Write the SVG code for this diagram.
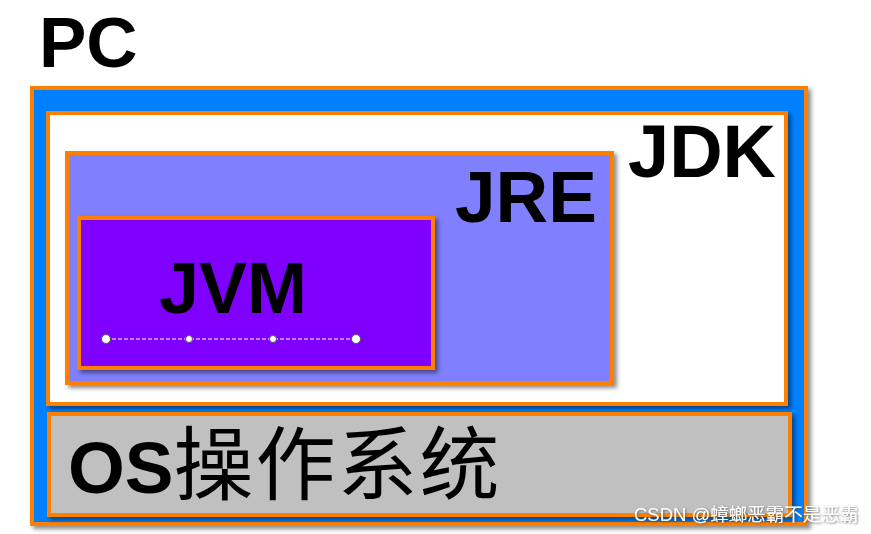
<svg xmlns="http://www.w3.org/2000/svg" width="871" height="534" viewBox="0 0 871 534">
  <defs>
    <filter id="sh" x="-5%" y="-5%" width="115%" height="115%">
      <feDropShadow dx="3" dy="3" stdDeviation="2" flood-color="#000" flood-opacity="0.45"/>
    </filter>
    <filter id="wm" x="-5%" y="-20%" width="115%" height="160%">
      <feDropShadow dx="1" dy="1" stdDeviation="0.8" flood-color="#555" flood-opacity="0.8"/>
    </filter>
  </defs>
  <style>
    .box { stroke: #FF8000; stroke-width: 4; filter: url(#sh); }
    .big { font-family: "Liberation Sans", Arial, sans-serif; font-weight: bold; fill: #000; }
    .cjk { font-family: "Noto Sans CJK SC", sans-serif; font-weight: normal; }
    .handle { fill: #fff; stroke: #555; stroke-width: 1; }
  </style>
  <rect width="871" height="534" fill="#fff"/>
  <g id="pc">
    <text class="big" x="39" y="67" font-size="71">PC</text>
    <rect class="box" x="32" y="88" width="774" height="436" fill="#0080FF"/>
  </g>
  <g id="jdk">
    <rect class="box" x="48" y="113" width="738" height="291" fill="#FFFFFF"/>
    <text class="big" x="628" y="177" font-size="74">JDK</text>
  </g>
  <g id="jre">
    <rect class="box" x="67" y="153" width="545" height="230" fill="#8080FF"/>
    <text class="big" x="455" y="222" font-size="73">JRE</text>
  </g>
  <g id="jvm">
    <rect class="box" x="79" y="218" width="354" height="150" fill="#8000FF"/>
    <text class="big" x="159" y="313" font-size="72">JVM</text>
  </g>
  <g id="os">
    <rect class="box" x="49" y="414" width="741" height="101" fill="#C0C0C0"/>
    <text class="big" x="68" y="493" font-size="73">OS<tspan class="cjk" font-size="80" letter-spacing="2">操作系统</tspan></text>
  </g>
  <g id="connectors">
    <line x1="106" y1="339" x2="356" y2="339" stroke="#fff" stroke-width="1" stroke-dasharray="4,2"/>
    <circle class="handle" cx="106" cy="339" r="4.5"/>
    <circle class="handle" cx="189" cy="339" r="3.5"/>
    <circle class="handle" cx="273" cy="339" r="3.5"/>
    <circle class="handle" cx="356" cy="339" r="4.5"/>
  </g>
  <text x="634" y="521" font-family="'Liberation Sans', 'Noto Sans CJK SC', sans-serif" font-size="18.5" fill="#fff" filter="url(#wm)">CSDN @蟑螂恶霸不是恶霸</text>
</svg>
